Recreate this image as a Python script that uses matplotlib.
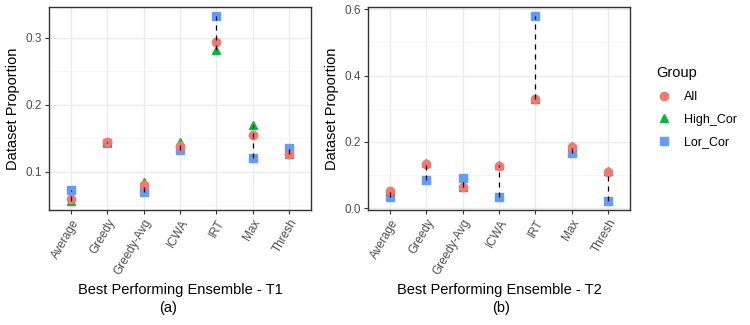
import matplotlib
matplotlib.use('Agg')
import matplotlib.pyplot as plt
from matplotlib.lines import Line2D
import numpy as np

plt.rcParams['font.family'] = ['Liberation Sans', 'DejaVu Sans']

categories = ['Average', 'Greedy', 'Greedy-Avg', 'ICWA', 'IRT', 'Max', 'Thresh']

t1_all = [0.060, 0.144, 0.080, 0.138, 0.294, 0.155, 0.127]
t1_high = [0.057, 0.145, 0.085, 0.145, 0.281, 0.170, 0.126]
t1_low = [0.073, 0.143, 0.070, 0.132, 0.332, 0.121, 0.136]

t2_all = [0.050, 0.134, 0.064, 0.128, 0.330, 0.184, 0.110]
t2_high = [0.053, 0.136, 0.063, 0.131, 0.328, 0.186, 0.112]
t2_low = [0.033, 0.086, 0.092, 0.033, 0.579, 0.167, 0.022]

groups = ['All', 'High_Cor', 'Lor_Cor']
colors = {'All': '#F8766D', 'High_Cor': '#00BA38', 'Lor_Cor': '#619CFF'}
markers = {'All': 'o', 'High_Cor': '^', 'Lor_Cor': 's'}

fig = plt.figure(figsize=(7.5, 3.25), dpi=100)
fig.patch.set_facecolor('white')

W, H = 750, 325


def px_axes(x0, y0, x1, y1):
    return fig.add_axes([x0 / W, 1 - y1 / H, (x1 - x0) / W, (y1 - y0) / H])


def panel(ax, all_v, high_v, low_v, yticks, yminor, xlabel, sub, sub_x):
    x = np.arange(len(categories))
    ax.set_facecolor('white')
    for y in yminor:
        ax.axhline(y, color='#F2F2F2', lw=0.5, zorder=0)
    for y in yticks:
        ax.axhline(y, color='#EBEBEB', lw=1.0, zorder=0)
    for xi in x:
        ax.axvline(xi, color='#EBEBEB', lw=1.0, zorder=0)

    ax.plot(x, low_v, linestyle='none', marker=markers['Lor_Cor'], ms=6,
            color=colors['Lor_Cor'], zorder=2)
    ax.plot(x, high_v, linestyle='none', marker=markers['High_Cor'], ms=6,
            color=colors['High_Cor'], zorder=3)
    ax.plot(x, all_v, linestyle='none', marker=markers['All'], ms=6,
            color=colors['All'], zorder=4)
    lo = np.minimum(np.minimum(all_v, high_v), low_v)
    hi = np.maximum(np.maximum(all_v, high_v), low_v)
    ax.vlines(x, lo, hi, colors='black', linestyles=(0, (4, 4)), lw=0.9, zorder=5)

    vals = np.concatenate([all_v, high_v, low_v])
    rng = vals.max() - vals.min()
    ax.set_ylim(vals.min() - 0.05 * rng, vals.max() + 0.05 * rng)
    ax.set_xlim(-0.6, len(categories) - 0.4)

    ax.set_xticks(x)
    ax.set_xticklabels(categories, rotation=60, ha='right', va='top',
                       rotation_mode='anchor', fontsize=8.5, color='#4D4D4D')
    ax.set_yticks(yticks)
    ax.set_yticklabels([f'{v:.1f}' for v in yticks], fontsize=8.5, color='#4D4D4D')
    ax.tick_params(length=3, width=0.8, color='#333333', pad=2)
    for s in ax.spines.values():
        s.set_color('#333333')
        s.set_linewidth(1.0)
    ax.set_ylabel('Dataset Proportion', fontsize=10.5, labelpad=4)
    ax.set_xlabel(xlabel, fontsize=10.5, labelpad=4)
    fig.text(sub_x / W, 1 - 308 / H, sub, fontsize=10.5, ha='center', va='center')


ax1 = px_axes(49, 7, 311, 210)
panel(ax1, t1_all, t1_high, t1_low, [0.1, 0.2, 0.3], [0.05, 0.15, 0.25],
      'Best Performing Ensemble - T1', '(a)', 168)

ax2 = px_axes(368, 7, 630, 210)
panel(ax2, t2_all, t2_high, t2_low, [0.0, 0.2, 0.4, 0.6], [0.1, 0.3, 0.5],
      'Best Performing Ensemble - T2', '(b)', 501)

handles = [Line2D([], [], linestyle='none', marker=markers[g], ms=6, color=colors[g])
           for g in groups]
leg = fig.legend(handles, groups, loc='upper left', bbox_to_anchor=(645 / W, 1 - 55 / H),
                 frameon=False, title='Group', fontsize=9, title_fontsize=10.5,
                 handlelength=1.2, handletextpad=1.0, labelspacing=0.85)
leg._legend_box.align = 'left'

fig.savefig('out.png', dpi=100, facecolor='white')
